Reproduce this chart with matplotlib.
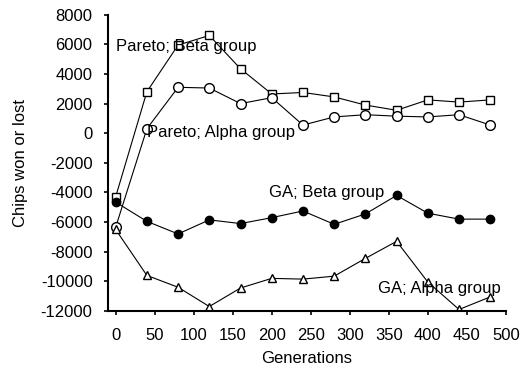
import matplotlib.pyplot as plt

plt.rcParams['font.family'] = ['Liberation Sans', 'DejaVu Sans']
plt.rcParams['axes.unicode_minus'] = False

# Generations sampled
generations = [0, 40, 80, 120, 160, 200, 240, 280, 320, 360, 400, 440, 480]

# Chips won or lost per group
pareto_beta = [-4300, 2800, 5950, 6600, 4350, 2650, 2750, 2450, 1900, 1550, 2250, 2100, 2250]
pareto_alpha = [-6350, 300, 3100, 3050, 2000, 2400, 550, 1100, 1250, 1150, 1100, 1250, 550]
ga_beta = [-4650, -5950, -6800, -5850, -6100, -5700, -5250, -6150, -5450, -4200, -5400, -5800, -5800]
ga_alpha = [-6500, -9600, -10400, -11700, -10450, -9800, -9850, -9650, -8450, -7300, -10050, -11900, -11050]

fig = plt.figure(figsize=(5.21, 3.68), dpi=100)
ax = fig.add_axes([0.207, 0.155, 0.764, 0.805])

ax.plot(generations, pareto_beta, marker='s', color='black', mfc='white', ms=6, lw=0.8)
ax.plot(generations, pareto_alpha, marker='o', color='black', mfc='white', ms=7, lw=0.8)
ax.plot(generations, ga_beta, marker='o', color='black', mfc='black', ms=6, lw=0.8)
ax.plot(generations, ga_alpha, marker='^', color='black', mfc='white', ms=6, lw=0.8)

# Series labels
fs = 12
ax.text(0, 5880, 'Pareto; Beta group', fontsize=fs, va='center')
ax.text(40, 50, 'Pareto; Alpha group', fontsize=fs, va='center')
ax.text(196, -3980, 'GA; Beta group', fontsize=fs, va='center')
ax.text(336, -10490, 'GA; Alpha group', fontsize=fs, va='center')

ax.set_xlim(-10, 500)
ax.set_ylim(-12000, 8000)
ax.set_xticks(range(0, 501, 50))
ax.set_yticks(range(-12000, 8001, 2000))
ax.spines['top'].set_visible(False)
ax.spines['right'].set_visible(False)
ax.spines['left'].set_linewidth(1.5)
ax.spines['bottom'].set_linewidth(1.5)
ax.tick_params(direction='out', length=3, width=1.2, labelsize=fs)
ax.tick_params(axis='x', pad=9)
ax.tick_params(axis='y', pad=8)

ax.set_xlabel('Generations', fontsize=fs, labelpad=6)
ax.set_ylabel('Chips won or lost', fontsize=fs, labelpad=9)

plt.savefig('out.png', dpi=100)
